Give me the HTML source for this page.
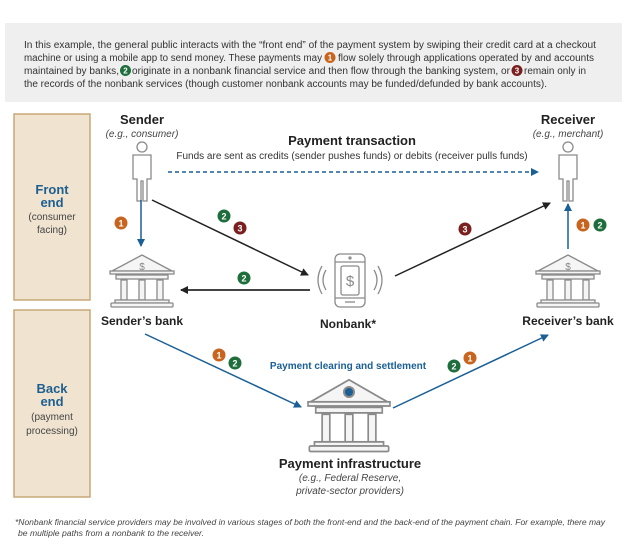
<!DOCTYPE html>
<html><head><meta charset="utf-8"><style>
body{margin:0;background:#fff;}
svg{display:block;font-family:"Liberation Sans Narrow","Liberation Sans",sans-serif;}
</style></head><body>
<svg width="624" height="547" viewBox="0 0 624 547" xmlns="http://www.w3.org/2000/svg">
<defs>
<marker id="ab" markerWidth="8" markerHeight="8" refX="7" refY="4" orient="auto" markerUnits="userSpaceOnUse"><path d="M0,0 L8,4 L0,8 z" fill="#1a5f96"/></marker>
<marker id="ak" markerWidth="8" markerHeight="8" refX="7" refY="4" orient="auto" markerUnits="userSpaceOnUse"><path d="M0,0 L8,4 L0,8 z" fill="#222"/></marker>
<g id="bank" fill="#f5f5f5" stroke="#8a8a8a" stroke-width="1.3">
<polygon points="-30,18 0,2 30,18"/>
<rect x="-32" y="18" width="64" height="3"/>
<rect x="-26" y="22" width="52" height="4"/>
<rect x="-21" y="27" width="6" height="20"/><rect x="-3" y="27" width="6" height="20"/><rect x="15" y="27" width="6" height="20"/>
<rect x="-27" y="47" width="54" height="3"/>
<rect x="-31" y="50" width="62" height="4" rx="1"/>
</g>
<g id="person" fill="#fff" stroke="#8a8a8a" stroke-width="1.3">
<circle cx="0" cy="0" r="5"/>
<path d="M-9,8 h18 v24 h-4 v22 h-4 v-20 h-2 v20 h-4 v-22 h-4 z"/>
</g>
</defs>
<rect x="5" y="23" width="617" height="79" fill="#efefef"/>
<g font-size="10" fill="#333">
<text x="24" y="48" textLength="572" lengthAdjust="spacingAndGlyphs">In this example, the general public interacts with the “front end” of the payment system by swiping their credit card at a checkout</text>
<text x="24" y="61" textLength="298" lengthAdjust="spacingAndGlyphs">machine or using a mobile app to send money. These payments may</text>
<text x="338" y="61" textLength="256" lengthAdjust="spacingAndGlyphs">flow solely through applications operated by and accounts</text>
<text x="24" y="74" textLength="95" lengthAdjust="spacingAndGlyphs">maintained by banks,</text>
<text x="132" y="74" textLength="378" lengthAdjust="spacingAndGlyphs">originate in a nonbank financial service and then flow through the banking system, or</text>
<text x="524" y="74" textLength="62" lengthAdjust="spacingAndGlyphs">remain only in</text>
<text x="24" y="87" textLength="523" lengthAdjust="spacingAndGlyphs">the records of the nonbank services (though customer nonbank accounts may be funded/defunded by bank accounts).</text>
</g>
<g font-size="8" font-weight="bold" fill="#fff" text-anchor="middle">
<circle cx="330" cy="57.5" r="5.5" fill="#c8641e"/><text x="330" y="60.5">1</text>
<circle cx="125.5" cy="70.5" r="5.5" fill="#1e6e3c"/><text x="125.5" y="73.5">2</text>
<circle cx="517" cy="70.5" r="5.5" fill="#7a1e1e"/><text x="517" y="73.5">3</text>
</g>
<rect x="14" y="114" width="76" height="186" fill="#f0e4d0" stroke="#c8a878" stroke-width="1.5"/>
<rect x="14" y="310" width="76" height="187" fill="#f0e4d0" stroke="#c8a878" stroke-width="1.5"/>
<g text-anchor="middle">
<text x="52" y="194" font-size="13" font-weight="bold" fill="#1f5f8f">Front</text>
<text x="52" y="207" font-size="13" font-weight="bold" fill="#1f5f8f">end</text>
<text x="52" y="220" font-size="10" fill="#444">(consumer</text>
<text x="52" y="233" font-size="10" fill="#444">facing)</text>
<text x="52" y="393" font-size="13" font-weight="bold" fill="#1f5f8f">Back</text>
<text x="52" y="406" font-size="13" font-weight="bold" fill="#1f5f8f">end</text>
<text x="52" y="420" font-size="10" fill="#444">(payment</text>
<text x="52" y="434" font-size="10" fill="#444">processing)</text>
<text x="142" y="124" font-size="13" font-weight="bold" fill="#222">Sender</text>
<text x="142" y="137" font-size="10" font-style="italic" fill="#444">(e.g., consumer)</text>
<text x="568" y="124" font-size="13" font-weight="bold" fill="#222">Receiver</text>
<text x="568" y="137" font-size="10" font-style="italic" fill="#444">(e.g., merchant)</text>
<text x="352" y="145" font-size="13" font-weight="bold" fill="#222">Payment transaction</text>
<text x="352" y="159" font-size="10" fill="#333">Funds are sent as credits (sender pushes funds) or debits (receiver pulls funds)</text>
<text x="142" y="325" font-size="12" font-weight="bold" fill="#222">Sender’s bank</text>
<text x="348" y="328" font-size="12" font-weight="bold" fill="#222">Nonbank*</text>
<text x="568" y="325" font-size="12" font-weight="bold" fill="#222">Receiver’s bank</text>
<text x="348" y="369" font-size="10" font-weight="bold" fill="#1a5f96">Payment clearing and settlement</text>
<text x="350" y="468" font-size="13" font-weight="bold" fill="#222">Payment infrastructure</text>
<text x="350" y="481" font-size="10" font-style="italic" fill="#444">(e.g., Federal Reserve,</text>
<text x="350" y="494" font-size="10" font-style="italic" fill="#444">private-sector providers)</text>
</g>
<use href="#person" x="142" y="147"/>
<use href="#person" x="568" y="147"/>
<line x1="168" y1="172" x2="538" y2="172" stroke="#1a5f96" stroke-width="1.5" stroke-dasharray="4,3" marker-end="url(#ab)"/>
<use href="#bank" x="142" y="253"/>
<use href="#bank" x="568" y="253"/>
<text x="142" y="270" font-size="10" fill="#888" text-anchor="middle">$</text>
<text x="568" y="270" font-size="10" fill="#888" text-anchor="middle">$</text>
<g fill="none" stroke="#8a8a8a" stroke-width="1.3">
<rect x="335" y="254" width="30" height="53" rx="5" fill="#fff"/>
<line x1="335" y1="262" x2="365" y2="262"/><line x1="335" y1="298" x2="365" y2="298"/>
<circle cx="350" cy="258" r="1"/><line x1="345" y1="302" x2="355" y2="302"/>
<rect x="341" y="266" width="18" height="29" rx="2"/>
<path d="M326,270 q-6,10 0,20"/><path d="M322,266 q-8,14 0,28"/>
<path d="M374,270 q6,10 0,20"/><path d="M378,266 q8,14 0,28"/>
</g>
<text x="350" y="286" font-size="15" fill="#888" text-anchor="middle">$</text>
<g transform="translate(349,377) scale(1.28,1.38)">
<use href="#bank"/>
</g>
<circle cx="349" cy="392" r="5" fill="#1a5f96" stroke="#8a8a8a" stroke-width="2"/>
<line x1="141" y1="200" x2="141" y2="246" stroke="#1a5f96" stroke-width="1.5" marker-end="url(#ab)"/>
<line x1="568" y1="249" x2="568" y2="204" stroke="#1a5f96" stroke-width="1.5" marker-end="url(#ab)"/>
<line x1="152" y1="200" x2="308" y2="275" stroke="#222" stroke-width="1.5" marker-end="url(#ak)"/>
<line x1="310" y1="290" x2="181" y2="290" stroke="#444" stroke-width="2" marker-end="url(#ak)"/>
<line x1="395" y1="276" x2="550" y2="203" stroke="#222" stroke-width="1.5" marker-end="url(#ak)"/>
<line x1="145" y1="334" x2="301" y2="407" stroke="#1a5f96" stroke-width="1.5" marker-end="url(#ab)"/>
<line x1="393" y1="408" x2="548" y2="335" stroke="#1a5f96" stroke-width="1.5" marker-end="url(#ab)"/>
<g font-size="9" font-weight="bold" fill="#fff" text-anchor="middle">
<circle cx="121" cy="223" r="6.5" fill="#c8641e"/><text x="121" y="226.5">1</text>
<circle cx="224" cy="216" r="6.5" fill="#1e6e3c"/><text x="224" y="219.5">2</text>
<circle cx="240" cy="228" r="6.5" fill="#7a1e1e"/><text x="240" y="231.5">3</text>
<circle cx="244" cy="278" r="6.5" fill="#1e6e3c"/><text x="244" y="281.5">2</text>
<circle cx="465" cy="229" r="6.5" fill="#7a1e1e"/><text x="465" y="232.5">3</text>
<circle cx="583" cy="225" r="6.5" fill="#c8641e"/><text x="583" y="228.5">1</text>
<circle cx="600" cy="225" r="6.5" fill="#1e6e3c"/><text x="600" y="228.5">2</text>
<circle cx="219" cy="355" r="6.5" fill="#c8641e"/><text x="219" y="358.5">1</text>
<circle cx="235" cy="363" r="6.5" fill="#1e6e3c"/><text x="235" y="366.5">2</text>
<circle cx="454" cy="366" r="6.5" fill="#1e6e3c"/><text x="454" y="369.5">2</text>
<circle cx="470" cy="358" r="6.5" fill="#c8641e"/><text x="470" y="361.5">1</text>
</g>
<g font-size="8" font-style="italic" fill="#444">
<text x="15" y="525" textLength="590" lengthAdjust="spacingAndGlyphs">*Nonbank financial service providers may be involved in various stages of both the front-end and the back-end of the payment chain. For example, there may</text>
<text x="18" y="536" textLength="186" lengthAdjust="spacingAndGlyphs">be multiple paths from a nonbank to the receiver.</text>
</g>
</svg>
</body></html>
